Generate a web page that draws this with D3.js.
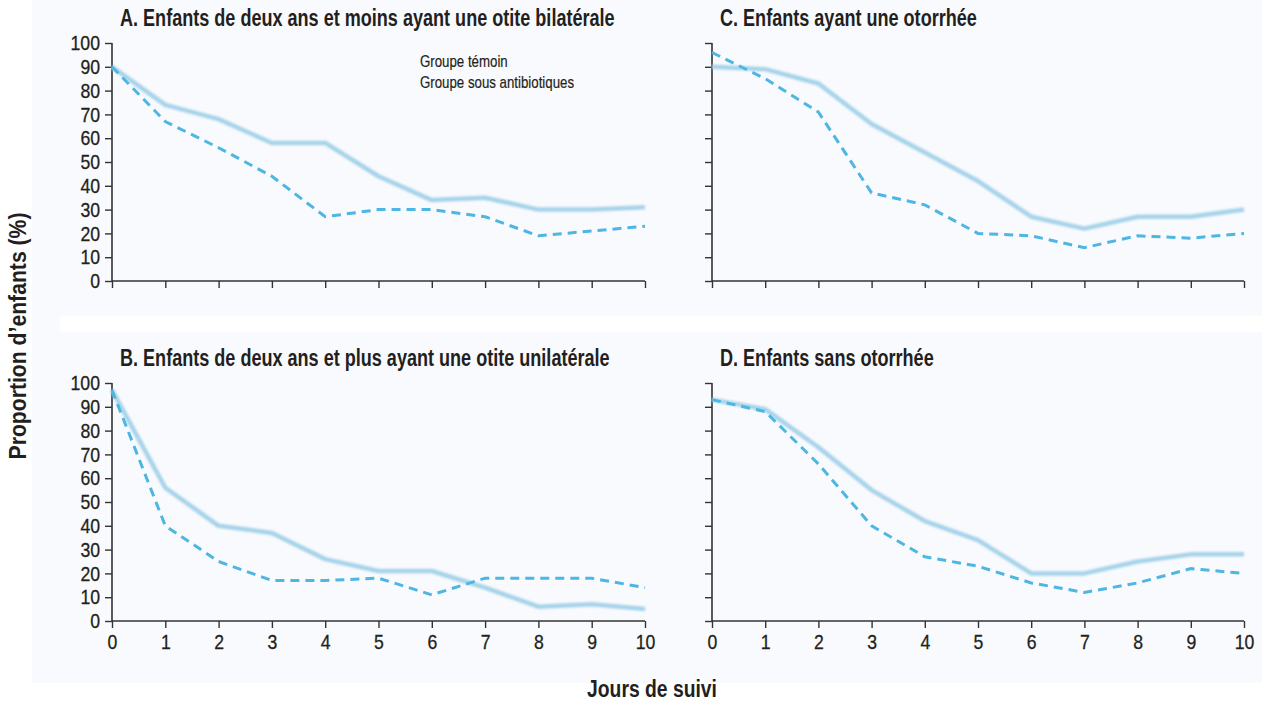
<!DOCTYPE html>
<html><head><meta charset="utf-8">
<script src="https://cdn.jsdelivr.net/npm/d3@7"></script>
<style>
body{margin:0;background:#fff;}
text{font-family:"Liberation Sans Narrow","Arial Narrow","Liberation Sans",sans-serif;fill:#231f20;}
</style></head>
<body><svg id="c" width="1262" height="705"></svg>
<script>
const days = [0,1,2,3,4,5,6,7,8,9,10];
const yTicks = [0,10,20,30,40,50,60,70,80,90,100];
const seriesNames = ["Groupe témoin","Groupe sous antibiotiques"];
const titles = {
  A:"A. Enfants de deux ans et moins ayant une otite bilatérale",
  B:"B. Enfants de deux ans et plus ayant une otite unilatérale",
  C:"C. Enfants ayant une otorrhée",
  D:"D. Enfants sans otorrhée"
};
const temoinA = [90,74,68,58,58,44,34,35,30,30,31];
const antibioA = [90,67,56,44,27,30,30,27,19,21,23];
const temoinB = [97,56,40,37,26,21,21,14,6,7,5];
const antibioB = [97,40,25,17,17,18,11,18,18,18,14];
const temoinC = [90,89,83,66,54,42,27,22,27,27,30];
const antibioC = [96,85,71,37,32,20,19,14,19,18,20];
const temoinD = [93,89,73,55,42,34,20,20,25,28,28];
const antibioD = [93,88,66,40,27,23,16,12,16,22,20];
const yTitle = "Proportion d’enfants (%)";
const xTitle = "Jours de suivi";

// condense a text element horizontally (no condensed font installed)
function condense(sel, f){
  sel.each(function(){
    const w = this.getComputedTextLength();
    if(w>0) d3.select(this).attr("textLength", w*f).attr("lengthAdjust","spacingAndGlyphs");
  });
}

const svg = d3.select("#c");
const defs = svg.append("defs");
defs.append("filter").attr("id","blur").attr("x","-5%").attr("y","-20%").attr("width","110%").attr("height","140%")
  .append("feGaussianBlur").attr("stdDeviation",1.1);
defs.append("filter").attr("id","blur2").attr("x","-5%").attr("y","-20%").attr("width","110%").attr("height","140%")
  .append("feGaussianBlur").attr("stdDeviation",0.6);

// backgrounds
svg.append("rect").attr("x",32).attr("y",0).attr("width",1230).attr("height",683).attr("fill","#f9fafd");
svg.append("rect").attr("x",60).attr("y",316).attr("width",1202).attr("height",16).attr("fill","#ffffff");

const cols = {L:[112,645], R:[712,1244]};
const rows = {T:[281,43], B:[621,383]};
const panels = [
  {key:"A", col:"L", row:"T", t:temoinA, a:antibioA, yl:true, xl:false},
  {key:"C", col:"R", row:"T", t:temoinC, a:antibioC, yl:false, xl:false},
  {key:"B", col:"L", row:"B", t:temoinB, a:antibioB, yl:true, xl:true},
  {key:"D", col:"R", row:"B", t:temoinD, a:antibioD, yl:false, xl:true}
];
const axisColor = "#333";
panels.forEach(p=>{
  const x = d3.scaleLinear().domain([0,10]).range(cols[p.col]);
  const y = d3.scaleLinear().domain([0,100]).range(rows[p.row]);
  const g = svg.append("g");
  // title
  const tt = g.append("text").attr("x",x(0)+8).attr("y",y(100)-17)
    .attr("font-size",23).attr("font-weight","bold").text(titles[p.key]);
  condense(tt, 0.785);
  // y axis
  const ya = g.append("g").attr("transform",`translate(${x(0)},0)`)
    .call(d3.axisLeft(y).tickValues(yTicks).tickSize(7).tickPadding(5)
      .tickFormat(p.yl? d3.format("d") : ()=>""));
  // x axis
  const xa = g.append("g").attr("transform",`translate(0,${y(0)})`)
    .call(d3.axisBottom(x).tickValues(days).tickSize(7).tickPadding(6)
      .tickFormat(p.xl? d3.format("d") : ()=>""));
  [ya,xa].forEach(a=>{
    a.select(".domain").attr("stroke",axisColor).attr("stroke-width",1.6);
    a.selectAll(".tick line").attr("stroke",axisColor).attr("stroke-width",1.4);
    a.selectAll("text").attr("font-size",21).attr("fill","#231f20")
      .attr("font-family",'"Liberation Sans Narrow","Arial Narrow","Liberation Sans",sans-serif')
      .attr("stroke","#231f20").attr("stroke-width",0.3);
    condense(a.selectAll("text"), 0.84);
  });
  ya.select(".domain").attr("d",`M0,${y(0)}V${y(100)}`);
  xa.select(".domain").attr("d",`M${x(0)},0H${x(10)}`);
  const line = d3.line().x((d,i)=>x(days[i])).y(d=>y(d));
  g.append("path").datum(p.t).attr("d",line).attr("fill","none")
    .attr("stroke","#a6d3ea").attr("stroke-width",4.5).attr("filter","url(#blur)").attr("stroke-linejoin","round");
  g.append("path").datum(p.a).attr("d",line).attr("fill","none")
    .attr("stroke","#4db6e2").attr("stroke-width",3).attr("stroke-dasharray","9,6").attr("filter","url(#blur2)");
  if(p.key==="A"){
    const lg = g.append("g");
    lg.append("line").attr("x1",366).attr("x2",412).attr("y1",61).attr("y2",61)
      .attr("stroke","#a6d3ea").attr("stroke-width",4.5).attr("filter","url(#blur)");
    lg.append("line").attr("x1",366).attr("x2",412).attr("y1",82).attr("y2",82)
      .attr("stroke","#4db6e2").attr("stroke-width",3).attr("stroke-dasharray","9,6").attr("filter","url(#blur2)");
    seriesNames.forEach((n,i)=>{
      const t = lg.append("text").attr("x",420).attr("y",61+i*21).attr("dy","0.35em").attr("font-size",17)
        .attr("stroke","#231f20").attr("stroke-width",0.2).text(n);
      condense(t, 0.78);
    });
  }
});
const yt = svg.append("text").attr("transform","translate(26,336) rotate(-90)").attr("text-anchor","middle")
  .attr("font-size",23).attr("font-weight","bold").text(yTitle);
condense(yt, 0.92);
const xt = svg.append("text").attr("x",652).attr("y",697).attr("text-anchor","middle")
  .attr("font-size",23).attr("font-weight","bold").text(xTitle);
condense(xt, 0.84);
</script></body></html>
